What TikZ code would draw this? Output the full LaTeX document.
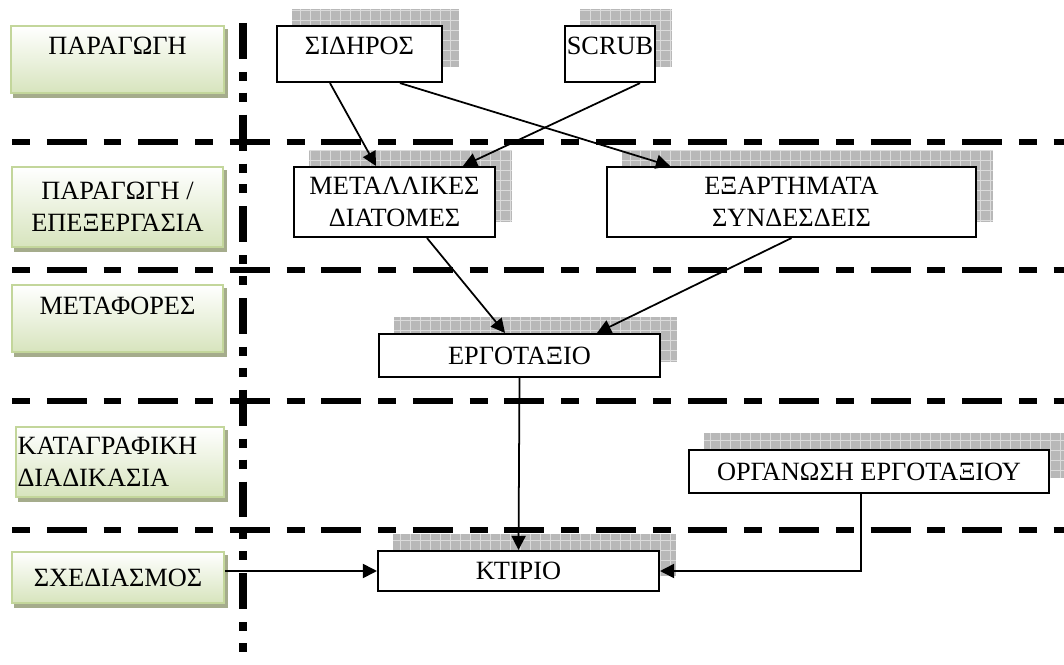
\documentclass[tikz,border=0pt]{standalone}
\usepackage{fontspec}
\setmainfont{Liberation Serif}
\usetikzlibrary{arrows.meta, positioning, backgrounds}
\definecolor{lanegreen}{RGB}{215,228,189}
\definecolor{laneedge}{RGB}{195,214,155}
\definecolor{laneshade}{RGB}{165,172,140}

% grey grid shadow up and right of a box
\newcommand{\gridshadow}[1]{%
  \fill[black!28] ([shift={(0.32cm,0.32cm)}]#1.south west) rectangle ([shift={(0.32cm,0.32cm)}]#1.north east);
  \draw[black!14, line width=0.3pt, step=0.2cm] ([shift={(0.32cm,0.32cm)}]#1.south west) grid ([shift={(0.32cm,0.32cm)}]#1.north east);
}

\begin{document}
\begin{tikzpicture}[
  x=0.02cm, y=-0.02cm,
  txt/.style={font=\fontsize{15}{18}\selectfont},
  box/.style={txt, draw, line width=1.2pt, fill=white, align=center, inner sep=0pt},
  lane/.style={txt, draw=laneedge, line width=1.2pt, top color=white, bottom color=lanegreen,
               align=center, inner sep=0pt},
  arr/.style={-{Triangle[length=8pt,width=8pt]}, line width=1pt},
  sepline/.style={line width=3.7pt, dash pattern=on 10.2pt off 9.6pt on 22.7pt off 9.6pt},
  axisline/.style={line width=4.5pt, dash pattern=on 20.4pt off 7.4pt on 5.1pt off 6.8pt on 5.1pt off 7.4pt}
]
\useasboundingbox (0,0) rectangle (1064,665);

% stages on the left
\node[lane, anchor=north, minimum width=4.26cm, text height=0.56cm, text depth=0.78cm] (prod) at (117.5,25) {ΠΑΡΑΓΩΓΗ};
\node[lane, minimum width=4.22cm, minimum height=1.6cm] (proc) at (117.5,207) {ΠΑΡΑΓΩΓΗ /\\ΕΠΕΞΕΡΓΑΣΙΑ};
\node[lane, anchor=north, minimum width=4.22cm, text height=0.58cm, text depth=0.76cm] (trans) at (117.5,284) {ΜΕΤΑΦΟΡΕΣ};
\node[lane, minimum width=4.16cm, minimum height=1.4cm, align=left, text width=4.1cm] (rec) at (120,462) {ΚΑΤΑΓΡΑΦΙΚΗ\\ΔΙΑΔΙΚΑΣΙΑ};
\node[lane, minimum width=4.24cm, minimum height=1.02cm] (design) at (118,577.5) {ΣΧΕΔΙΑΣΜΟΣ};

% flow boxes
\node[box, anchor=north, minimum width=3.3cm, text height=0.56cm, text depth=0.56cm] (sid) at (359.5,25) {ΣΙΔΗΡΟΣ};
\node[box, anchor=north, minimum width=1.8cm, text height=0.56cm, text depth=0.56cm] (scrub) at (610,25) {SCRUB};
\node[box, minimum width=4.02cm, minimum height=1.4cm] (met) at (394.5,202) {ΜΕΤΑΛΛΙΚΕΣ\\ΔΙΑΤΟΜΕΣ};
\node[box, minimum width=7.38cm, minimum height=1.4cm] (exa) at (791.5,202) {ΕΞΑΡΤΗΜΑΤΑ\\ΣΥΝΔΕΣΔΕΙΣ};
\node[box, minimum width=5.62cm, minimum height=0.86cm] (erg) at (519.5,355.5) {ΕΡΓΟΤΑΞΙΟ};
\node[box, minimum width=7.2cm, minimum height=0.86cm] (org) at (869,471.5) {ΟΡΓΑΝΩΣΗ ΕΡΓΟΤΑΞΙΟΥ};
\node[box, minimum width=5.62cm, minimum height=0.8cm] (kti) at (518.5,571) {ΚΤΙΡΙΟ};

\begin{scope}[on background layer]
  \fill[white] (0,0) rectangle (1064,665);
  \foreach \n in {sid,scrub,met,exa,erg,org,kti} {\gridshadow{\n}}
  \foreach \n in {prod,proc,trans,rec,design}
    \fill[laneshade] ([shift={(0.06cm,-0.08cm)}]\n.south west) rectangle ([shift={(0.06cm,-0.08cm)}]\n.north east);
\end{scope}

% separators
\foreach \yy in {142,270,401,530}
  \draw[sepline] (12,\yy) -- (1064,\yy);
\draw[axisline] (243,23) -- (243,660);

\draw[arr] ([xshift=-0.59cm]sid.south) -- ([xshift=-0.37cm]met.north);
\draw[arr] ([xshift=0.81cm]sid.south) -- ([xshift=-2.43cm]exa.north);
\draw[arr] ([xshift=0.6cm]scrub.south) -- ([xshift=1.37cm]met.north);
\draw[arr] ([xshift=0.65cm]met.south) -- ([xshift=-0.29cm]erg.north);
\draw[arr] (exa.south) -- ([xshift=1.55cm]erg.north);
\draw[arr] (erg.south) -- (kti.north);
\draw[arr] (design.east |- kti.west) -- (kti.west);
\draw[arr] ([xshift=-0.16cm]org.south) |- (kti.east);
\end{tikzpicture}
\end{document}
